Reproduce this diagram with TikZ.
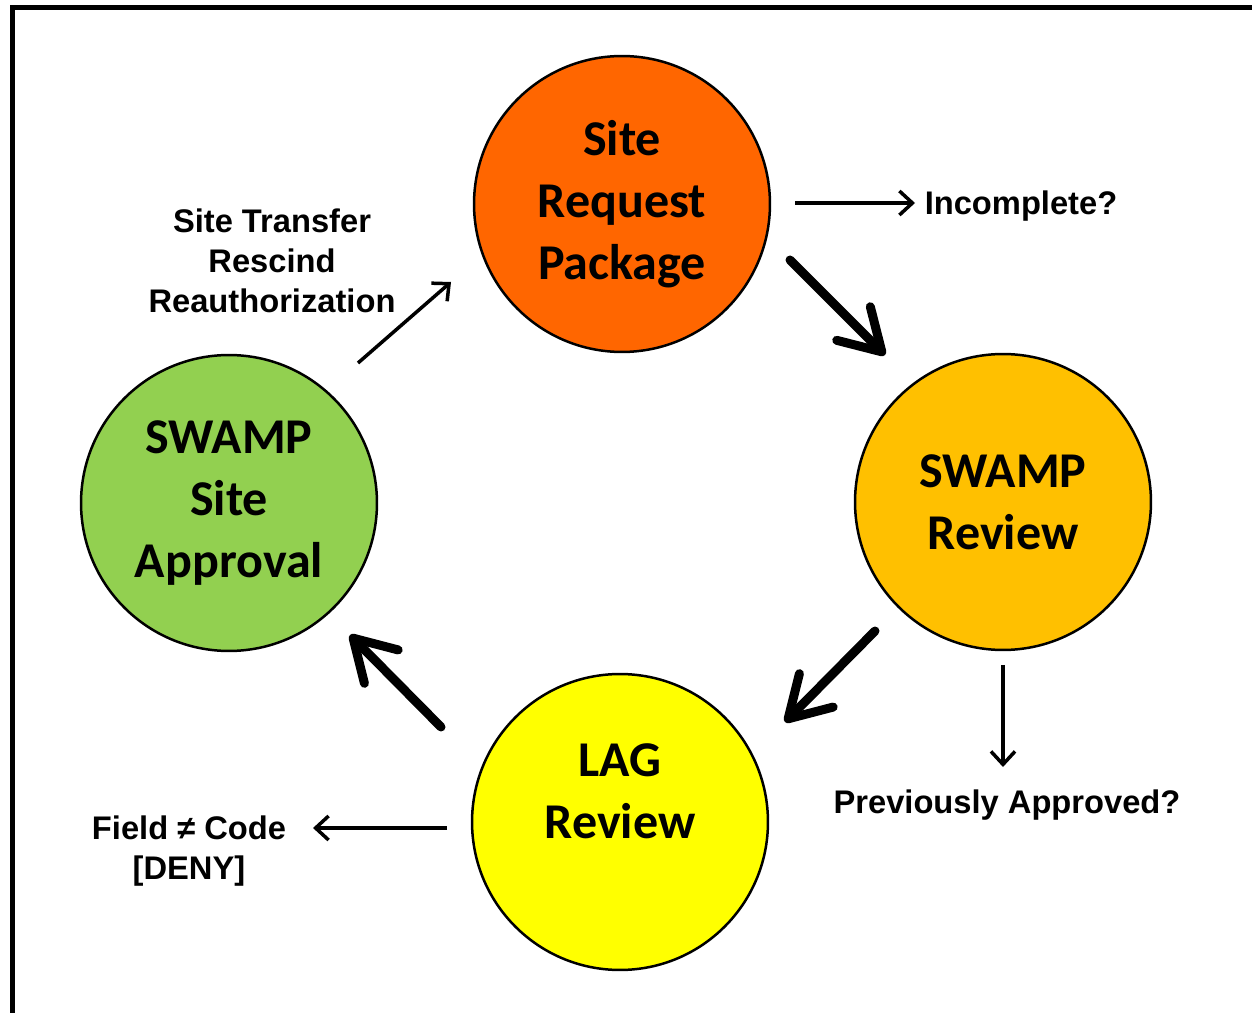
\documentclass[tikz,border=0pt]{standalone}
\usepackage{fontspec}
\setmainfont{Carlito}
\newfontfamily\labelfont{Liberation Sans}
\usetikzlibrary{arrows.meta}
\definecolor{reqorange}{HTML}{FF6600}
\definecolor{revamber}{HTML}{FFC000}
\definecolor{lagyellow}{HTML}{FFFF00}
\definecolor{apprgreen}{HTML}{92D050}
\tikzstyle{flow} = [%
					line width = 0.18cm,
					line cap = round,
					-{Straight Barb[round, length=0.8cm, width=0.95cm]}
					]
\tikzstyle{side} = [%
					line width = 0.07cm,
					-{Straight Barb[length=0.26cm, width=0.48cm]}
					]

\begin{document}
\begin{tikzpicture}[x=0.02cm, y=-0.02cm, stage/.style={circle, draw, line width=0.05cm, minimum size=5.92cm, inner sep=0pt, align=center, font=\fontsize{28.5}{35.3}\selectfont\bfseries}, remark/.style={align=center, font=\labelfont\fontsize{18.6}{22.8}\selectfont\bfseries}]
		
		% Frame
		\useasboundingbox (0,0) rectangle (1252,1013);
		\draw[line width=0.1cm] (12.5,1013) -- (12.5,7.5) -- (1252,7.5);
		
		% Stages
		\node[stage, fill=reqorange] at (622,204) (req) {Site\\Request\\Package};
		\node[stage, fill=revamber] at (1003,502) (rev) {SWAMP\\Review};
		\node[stage, fill=lagyellow] at (620,822) (lag) {LAG\\Review\\~};
		\node[stage, fill=apprgreen] at (229,503) (appr) {SWAMP\\Site\\Approval};
		
		% Remarks
		\node[remark] at (1021,206) (inc) {Incomplete?};
		\node[remark] at (1007,805) (prev) {Previously Approved?};
		\node[remark] at (189,851) (deny) {Field ≠ Code\\{[DENY]}};
		\node[remark] at (272,261) (back) {Site Transfer\\Rescind\\Reauthorization};
		
		% Coordinates
		\coordinate (f1a) at (790,260);
		\coordinate (f1b) at (885,355);
		\coordinate (f2a) at (875,631);
		\coordinate (f2b) at (785,722);
		\coordinate (f3a) at (441,727);
		\coordinate (f3b) at (350,635);
		\coordinate (s1a) at (795,203);
		\coordinate (s1b) at (915,203);
		\coordinate (s2a) at (1003,665);
		\coordinate (s2b) at (1003,767);
		\coordinate (s3a) at (447,828);
		\coordinate (s3b) at (313,828);
		\coordinate (s4a) at (358,363);
		\coordinate (s4b) at (451,282);
		
		% Main flow
		\draw[flow] (f1a) -- (f1b);
		\draw[flow] (f2a) -- (f2b);
		\draw[flow] (f3a) -- (f3b);
		
		% Side arrows
		\draw[side] (s1a) -- (s1b);
		\draw[side] (s2a) -- (s2b);
		\draw[side] (s3a) -- (s3b);
		\draw[side] (s4a) -- (s4b);
	\end{tikzpicture}
\end{document}
